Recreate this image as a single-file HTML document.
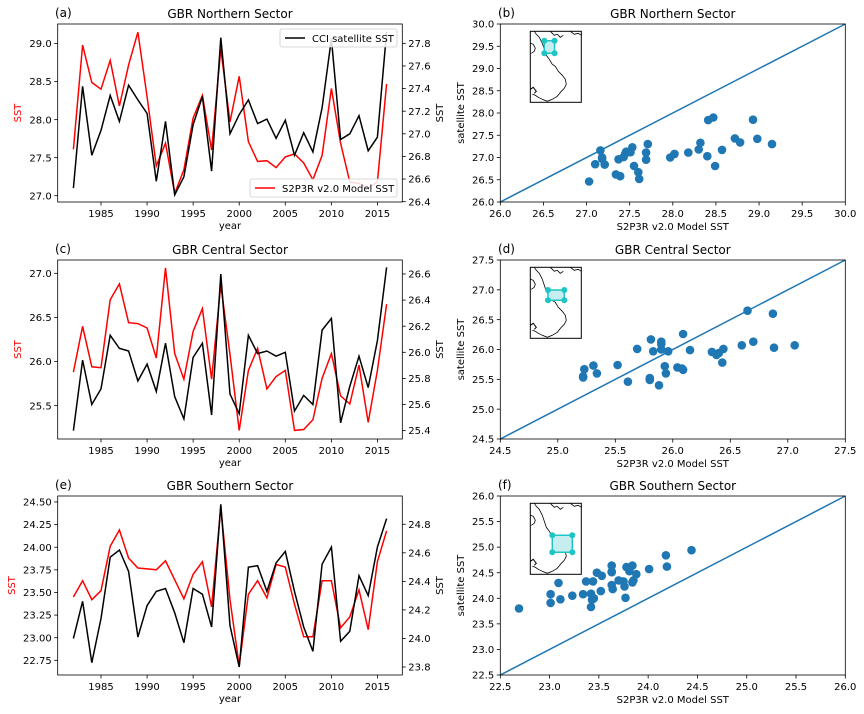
<!DOCTYPE html>
<html><head><meta charset="utf-8">
<style>
html,body{margin:0;padding:0;background:#fff;}
svg{display:block;font-family:"DejaVu Sans","Liberation Sans",sans-serif;}
</style></head>
<body>
<svg id="fig" width="864" height="714" viewBox="0 0 864 714" xmlns="http://www.w3.org/2000/svg"></svg>
<script>
const years = [];
for (let y = 1982; y <= 2016; y++) years.push(y);
const northModel = [27.61,28.98,28.49,28.40,28.78,28.18,28.72,29.15,28.30,27.39,27.69,27.03,27.34,28.02,28.32,27.60,28.93,27.97,28.57,27.71,27.45,27.46,27.37,27.51,27.55,27.43,27.21,27.53,28.41,27.69,27.18,27.16,27.10,27.18,28.47];
const northSat = [26.52,27.42,26.81,27.03,27.34,27.11,27.43,27.30,27.18,26.58,27.11,26.46,26.62,27.08,27.33,26.67,27.85,27.00,27.17,27.30,27.09,27.13,26.96,27.12,26.81,27.01,26.84,27.23,27.84,26.95,27.00,27.16,26.85,26.97,27.90];
const centralModel = [25.88,26.40,25.94,25.93,26.70,26.88,26.44,26.43,26.38,26.04,27.06,26.09,25.80,26.34,26.60,25.80,26.87,26.08,25.22,25.90,26.15,25.69,25.83,25.90,25.22,25.23,25.34,25.81,26.09,25.61,25.52,25.96,25.31,25.90,26.65];
const centralSat = [25.40,25.94,25.60,25.72,26.13,26.03,26.01,25.78,25.91,25.70,26.07,25.66,25.49,25.96,26.07,25.52,26.60,25.68,25.53,26.13,25.99,26.01,25.97,26.00,25.55,25.67,25.60,26.17,26.26,25.46,25.74,25.97,25.73,26.09,26.65];
const southModel = [23.45,23.63,23.42,23.52,24.01,24.19,23.88,23.77,23.76,23.75,23.85,23.64,23.43,23.70,23.84,23.34,24.44,23.42,22.69,23.48,23.63,23.44,23.81,23.78,23.37,23.01,23.01,23.63,23.63,23.11,23.23,23.53,23.09,23.84,24.18];
const southSat = [24.00,24.26,23.83,24.14,24.57,24.62,24.47,24.01,24.23,24.33,24.35,24.18,23.97,24.35,24.31,24.08,24.94,24.09,23.80,24.50,24.51,24.33,24.53,24.61,24.33,24.08,23.91,24.52,24.64,23.98,24.05,24.44,24.30,24.64,24.84];
const yearTicks = [1985,1990,1995,2000,2005,2010,2015];
const northLeftTicks = [27.0,27.5,28.0,28.5,29.0];
const northRightTicks = [26.4,26.6,26.8,27.0,27.2,27.4,27.6,27.8];
const centralLeftTicks = [25.5,26.0,26.5,27.0];
const centralRightTicks = [25.4,25.6,25.8,26.0,26.2,26.4,26.6];
const southLeftTicks = [22.75,23.00,23.25,23.50,23.75,24.00,24.25,24.50];
const southRightTicks = [23.8,24.0,24.2,24.4,24.6,24.8];
const northScatterTicks = [26.0,26.5,27.0,27.5,28.0,28.5,29.0,29.5,30.0];
const centralScatterTicks = [24.5,25.0,25.5,26.0,26.5,27.0,27.5];
const southScatterTicks = [22.5,23.0,23.5,24.0,24.5,25.0,25.5,26.0];

const svg = document.getElementById('fig');
const NS = 'http://www.w3.org/2000/svg';
function mk(tag, attrs, parent, text) {
  const e = document.createElementNS(NS, tag);
  for (const k in attrs) e.setAttribute(k, attrs[k]);
  if (text !== undefined) e.textContent = text;
  (parent || svg).appendChild(e);
  return e;
}
function lin(d0, d1, r0, r1) { return v => r0 + (v - d0) / (d1 - d0) * (r1 - r0); }

const rows = [
  {top:24, bot:202, tag:['(a)','(b)'], title:'GBR Northern Sector', model:northModel, sat:northSat,
   l:[26.917,29.258], r:[26.397,27.971], lt:northLeftTicks, rt:northRightTicks, ld:1, rd:1,
   sc:[26,30], st:northScatterTicks, cyan:[14,9.5,24.3,22], key:'north'},
  {top:260, bot:439, tag:['(c)','(d)'], title:'GBR Central Sector', model:centralModel, sat:centralSat,
   l:[25.122,27.151], r:[25.336,26.707], lt:centralLeftTicks, rt:centralRightTicks, ld:1, rd:1,
   sc:[24.5,27.5], st:centralScatterTicks, cyan:[17.7,22.7,34,33], key:'central'},
  {top:496, bot:675, tag:['(e)','(f)'], title:'GBR Southern Sector', model:southModel, sat:southSat,
   l:[22.588,24.566], r:[23.744,24.998], lt:southLeftTicks, rt:southRightTicks, ld:2, rd:1,
   sc:[22.5,26], st:southScatterTicks, cyan:[22,32,42,49], key:'south'}
];

const LX0 = 57.7, LX1 = 402.3, RX0 = 500.3, RX1 = 845.3;
const xYear = lin(1980.3, 2017.7, LX0, LX1);

rows.forEach(R => {
  const g = mk('g', {});
  
  
  const yl = lin(R.l[0], R.l[1], R.bot, R.top);
  const yr = lin(R.r[0], R.r[1], R.bot, R.top);
  const clipId = 'clip-' + R.key;
  const cp = mk('clipPath', {id: clipId}, g);
  mk('rect', {x: LX0, y: R.top, width: LX1 - LX0, height: R.bot - R.top}, cp);
  const red = mk('polyline', {points: years.map((y, i) => xYear(y).toFixed(1) + ',' + yl(R.model[i]).toFixed(1)).join(' '),
    fill: 'none', stroke: '#ff0000', 'stroke-width': 1.5, 'clip-path': 'url(#' + clipId + ')'}, g);
  
  
  const blk = mk('polyline', {points: years.map((y, i) => xYear(y).toFixed(1) + ',' + yr(R.sat[i]).toFixed(1)).join(' '),
    fill: 'none', stroke: '#000', 'stroke-width': 1.5, 'clip-path': 'url(#' + clipId + ')'}, g);
  
  
  mk('rect', {x: LX0, y: R.top, width: LX1 - LX0, height: R.bot - R.top, fill: 'none', stroke: '#000', 'stroke-width': 0.8}, g);
  yearTicks.forEach(t => {
    const x = xYear(t);
    mk('line', {x1: x, x2: x, y1: R.bot, y2: R.bot + 3.5, stroke: '#000', 'stroke-width': 0.8}, g);
    const tx = mk('text', {x: x, y: R.bot + 15, 'font-size': 10, 'text-anchor': 'middle'}, g, String(t));
    
    
  });
  R.lt.forEach(t => {
    const y = yl(t);
    mk('line', {x1: LX0 - 3.5, x2: LX0, y1: y, y2: y, stroke: '#000', 'stroke-width': 0.8}, g);
    const tx = mk('text', {x: LX0 - 6, y: y + 3.6, 'font-size': 10, 'text-anchor': 'end'}, g, t.toFixed(R.ld));
    
    
  });
  R.rt.forEach(t => {
    const y = yr(t);
    mk('line', {x1: LX1, x2: LX1 + 3.5, y1: y, y2: y, stroke: '#000', 'stroke-width': 0.8}, g);
    const tx = mk('text', {x: LX1 + 6, y: y + 3.6, 'font-size': 10, 'text-anchor': 'start'}, g, t.toFixed(R.rd));
    
    
  });
  const mid = (R.top + R.bot) / 2;
  const ylab = mk('text', {x: 0, y: 0, 'font-size': 10, fill: '#ff0000', 'text-anchor': 'middle', transform: 'translate(' + (R.key === 'south' ? 15 : 21) + ',' + mid + ') rotate(-90)'}, g, 'SST');
  
  
  const yrlab = mk('text', {x: 0, y: 0, 'font-size': 10, 'text-anchor': 'middle', transform: 'translate(443,' + mid + ') rotate(-90)'}, g, 'SST');
  
  
  const xlab = mk('text', {x: (LX0 + LX1) / 2, y: R.bot + 27, 'font-size': 10, 'text-anchor': 'middle'}, g, 'year');
  
  
  const ttl = mk('text', {x: (LX0 + LX1) / 2, y: R.top - 6, 'font-size': 12, 'text-anchor': 'middle'}, g, R.title);
  
  
  const tg = mk('text', {x: 55, y: R.top - 7, 'font-size': 12}, g, R.tag[0]);
  
  

  const g2 = mk('g', {});
  
  
  const sx = lin(R.sc[0], R.sc[1], RX0, RX1);
  const sy = lin(R.sc[0], R.sc[1], R.bot, R.top);
  const diag = mk('line', {x1: sx(R.sc[0]), y1: sy(R.sc[0]), x2: sx(R.sc[1]), y2: sy(R.sc[1]), stroke: '#1f77b4', 'stroke-width': 1.5}, g2);
  
  
  R.model.forEach((m, i) => {
    const c = mk('circle', {cx: sx(m).toFixed(1), cy: sy(R.sat[i]).toFixed(1), r: 4.3, fill: '#1f77b4'}, g2);
    
    
  });
  mk('rect', {x: RX0, y: R.top, width: RX1 - RX0, height: R.bot - R.top, fill: 'none', stroke: '#000', 'stroke-width': 0.8}, g2);
  R.st.forEach(t => {
    const x = sx(t), y = sy(t);
    mk('line', {x1: x, x2: x, y1: R.bot, y2: R.bot + 3.5, stroke: '#000', 'stroke-width': 0.8}, g2);
    const a = mk('text', {x: x, y: R.bot + 15, 'font-size': 10, 'text-anchor': 'middle'}, g2, t.toFixed(1));
    
    
    mk('line', {x1: RX0 - 3.5, x2: RX0, y1: y, y2: y, stroke: '#000', 'stroke-width': 0.8}, g2);
    const b = mk('text', {x: RX0 - 6, y: y + 3.6, 'font-size': 10, 'text-anchor': 'end'}, g2, t.toFixed(1));
    
    
  });
  const sxl = mk('text', {x: (RX0 + RX1) / 2, y: R.bot + 28, 'font-size': 10, 'text-anchor': 'middle'}, g2, 'S2P3R v2.0 Model SST');
  
  
  const syl = mk('text', {x: 0, y: 0, 'font-size': 10, 'text-anchor': 'middle', transform: 'translate(464,' + mid + ') rotate(-90)'}, g2, 'satellite SST');
  
  
  const st2 = mk('text', {x: (RX0 + RX1) / 2, y: R.top - 6, 'font-size': 12, 'text-anchor': 'middle'}, g2, R.title);
  
  
  const tg2 = mk('text', {x: 498, y: R.top - 7, 'font-size': 12}, g2, R.tag[1]);
  
  

  const ix = 530.3, iy = R.top + 7.3;
  const mg = mk('g', {transform: 'translate(' + ix + ',' + iy + ')'}, g2);
  
  
  mk('rect', {x: 0, y: 0, width: 51, height: 71, fill: '#fff', stroke: 'none'}, mg);
  mk('polyline', {points: '4,0 6,3 9,6 12,12 14,18 16,24 19,28 22,33 25,35 28,40 32,44 35,48 36,53 34,57 31,60 27,65 22,68 17,70 12,68 8,66 5,64 2,63', fill: 'none', stroke: '#000', 'stroke-width': 0.8}, mg);
  mk('polyline', {points: '0,12 3,13 5,17 4,20 1,22', fill: 'none', stroke: '#000', 'stroke-width': 0.8}, mg);
  mk('polyline', {points: '20,0 24,4 27,3 30,6 33,4', fill: 'none', stroke: '#000', 'stroke-width': 0.8}, mg);
  mk('polyline', {points: '40,0 44,3 48,2 51,4', fill: 'none', stroke: '#000', 'stroke-width': 0.8}, mg);
  mk('polyline', {points: '0,58 3,56 6,60 4,62', fill: 'none', stroke: '#000', 'stroke-width': 1}, mg);
  const c = R.cyan;
  mk('polygon', {points: c[0] + ',' + c[1] + ' ' + c[2] + ',' + c[1] + ' ' + c[2] + ',' + c[3] + ' ' + c[0] + ',' + c[3], fill: '#c6eef0', stroke: '#1fc4c4', 'stroke-width': 1.5}, mg);
  [[c[0], c[1]], [c[2], c[1]], [c[2], c[3]], [c[0], c[3]]].forEach(p => mk('circle', {cx: p[0], cy: p[1], r: 3, fill: '#1fc4c4'}, mg));
  mk('rect', {x: 0, y: 0, width: 51, height: 71, fill: 'none', stroke: '#000', 'stroke-width': 1}, mg);
});

function legend(x, y, w, color, label, name) {
  const lg = mk('g', {});
  
  
  mk('rect', {x: x, y: y, width: w, height: 18, rx: 2, fill: '#fff', 'fill-opacity': 0.85, stroke: '#ccc', 'stroke-width': 0.8}, lg);
  mk('line', {x1: x + 5, x2: x + 25, y1: y + 9, y2: y + 9, stroke: color, 'stroke-width': 1.5}, lg);
  mk('text', {x: x + 32, y: y + 13, 'font-size': 10}, lg, label);
}
legend(280, 29, 117, '#000', 'CCI satellite SST', 'legend-satellite-sst');
legend(250, 179, 147, '#ff0000', 'S2P3R v2.0 Model SST', 'legend-model-sst');
</script>
</body></html>
